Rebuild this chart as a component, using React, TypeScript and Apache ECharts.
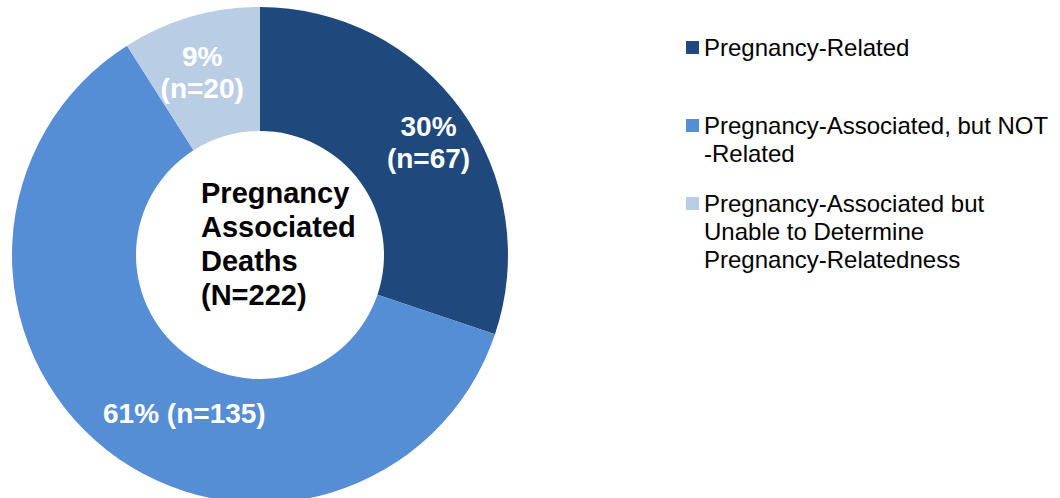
import React, { useEffect, useRef } from "react";
import * as echarts from "echarts";

const categories = [
  "Pregnancy-Related",
  "Pregnancy-Associated, but NOT -Related",
  "Pregnancy-Associated but Unable to Determine Pregnancy-Relatedness",
];
const legendLines = [
  ["Pregnancy-Related"],
  ["Pregnancy-Associated, but NOT", "-Related"],
  ["Pregnancy-Associated but", "Unable to Determine", "Pregnancy-Relatedness"],
];
const counts = [67, 135, 20];
const colors = ["#1F497D", "#558ED5", "#B9CDE5"];
const centerLines = ["Pregnancy", "Associated", "Deaths", "(N=222)"];

export default function App() {
  const ref = useRef<HTMLDivElement>(null);
  useEffect(() => {
    if (!ref.current) return;
    const chart = echarts.init(ref.current, undefined, { renderer: "svg" });
    const total = counts.reduce((a, b) => a + b, 0);
    const LH = 28;
    const iconTops = [41, 119, 197];
    const legends = categories.map((name, i) => {
      const n = legendLines[i].length;
      const boxH = (2 * n - 1) * LH;
      const boxTop = 6.5 - boxH / 2;
      const text = "\n".repeat(n - 1) + legendLines[i].join("\n");
      return {
        data: [name],
        orient: "vertical",
        left: 686,
        top: iconTops[i] + boxTop,
        padding: 0,
        itemGap: 0,
        itemWidth: 13,
        itemHeight: 13,
        icon: "rect",
        selectedMode: false,
        formatter: () => text,
        textStyle: {
          fontFamily: "Liberation Sans, Arial, sans-serif",
          fontSize: 24,
          lineHeight: LH,
          color: "#000",
        },
      };
    });
    const labelShift: Record<number, [number, number]> = {
      0: [15, -2],
      1: [41, 10],
      2: [-5, -1],
    };
    chart.setOption({
      animation: false,
      color: colors,
      legend: legends,
      graphic: [
        {
          type: "text",
          left: 201,
          top: 176,
          silent: true,
          style: {
            text: centerLines.join("\n"),
            fontFamily: "Liberation Sans, Arial, sans-serif",
            fontWeight: "bold",
            fontSize: 29,
            lineHeight: 34,
            fill: "#000",
          },
        },
      ],
      series: [
        {
          type: "pie",
          center: [260, 255],
          radius: [124, 248],
          startAngle: 90,
          clockwise: true,
          avoidLabelOverlap: false,
          emphasis: { disabled: true },
          silent: true,
          data: categories.map((name, i) => ({ name, value: counts[i] })),
          label: {
            show: true,
            position: "inside",
            color: "#fff",
            fontFamily: "Liberation Sans, Arial, sans-serif",
            fontWeight: "bold",
            fontSize: 28,
            lineHeight: 32,
            formatter: (p: any) => {
              const pct = Math.round((p.value / total) * 100);
              return p.dataIndex === 1
                ? `${pct}% (n=${p.value})`
                : `${pct}%\n(n=${p.value})`;
            },
          },
          labelLine: { show: false },
          labelLayout: (p: any) => {
            const s = labelShift[p.dataIndex] || [0, 0];
            return { dx: s[0], dy: s[1] };
          },
        },
      ],
    });
    return () => chart.dispose();
  }, []);
  return (
    <div
      ref={ref}
      style={{ position: "fixed", left: 0, top: 0, width: 1060, height: 498, background: "#fff" }}
    />
  );
}
